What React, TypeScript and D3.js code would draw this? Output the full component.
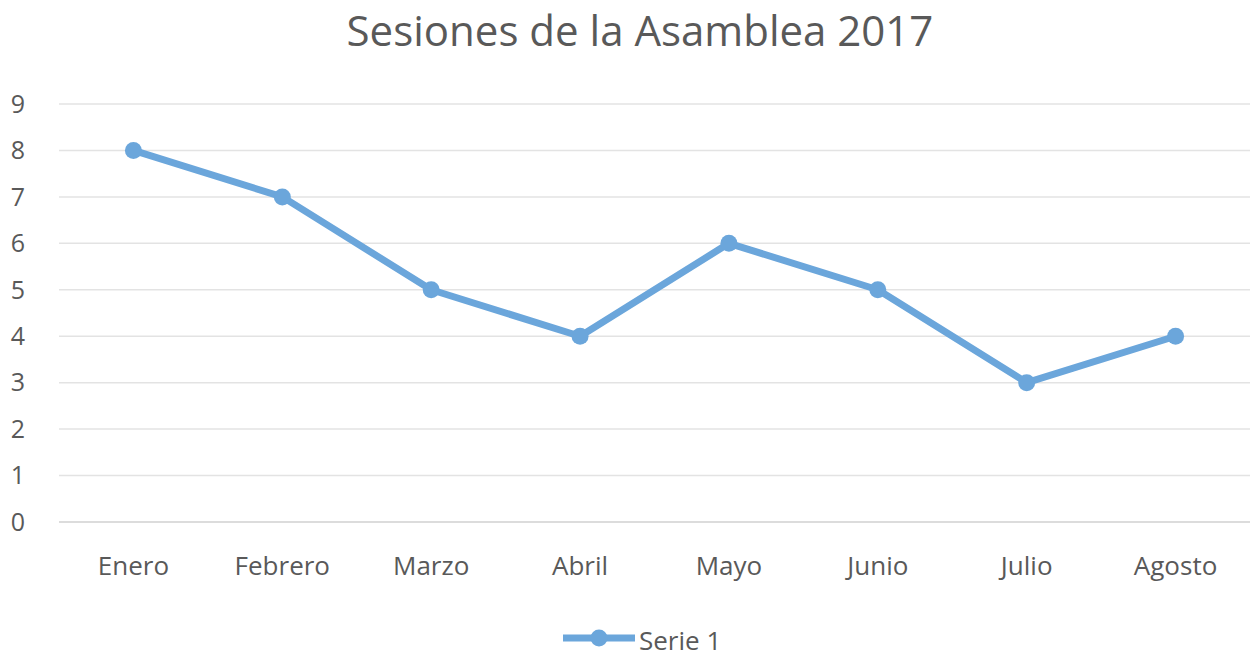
import React, { useEffect, useRef } from 'react';
import * as d3 from 'd3';

const months = ['Enero', 'Febrero', 'Marzo', 'Abril', 'Mayo', 'Junio', 'Julio', 'Agosto'];
const serie1 = [8, 7, 5, 4, 6, 5, 3, 4];
const yTicks = [0, 1, 2, 3, 4, 5, 6, 7, 8, 9];
const title = 'Sesiones de la Asamblea 2017';
const seriesName = 'Serie 1';

const W = 1253;
const H = 660;
const FONT = "'Open Sans', 'Liberation Sans', sans-serif";
const BLUE = '#6ba6db';
const TEXT = '#595959';

const App = () => {
  const svgRef = useRef<SVGSVGElement>(null);

  useEffect(() => {
    document.body.style.margin = '0';
    const svg = d3.select(svgRef.current);
    svg.selectAll('*').remove();

    const left = 59;
    const right = 1250;
    const x = d3.scaleBand().domain(months).range([left, right]);
    const y = d3.scaleLinear().domain([0, 9]).range([522, 104]);
    const cx = (m: string) => (x(m) as number) + x.bandwidth() / 2;

    svg.append('rect').attr('width', W).attr('height', H).attr('fill', 'white');

    svg.append('text')
      .attr('x', 640)
      .attr('y', 46)
      .attr('text-anchor', 'middle')
      .attr('font-family', FONT)
      .attr('font-size', 42)
      .attr('fill', TEXT)
      .text(title);

    const grid = svg.append('g');
    grid.selectAll('line')
      .data(yTicks)
      .enter()
      .append('line')
      .attr('x1', left)
      .attr('x2', right)
      .attr('y1', d => y(d))
      .attr('y2', d => y(d))
      .attr('stroke', d => (d === 0 ? '#d0d0d0' : '#e3e3e3'))
      .attr('stroke-width', 1.5);

    svg.append('g').selectAll('text')
      .data(yTicks)
      .enter()
      .append('text')
      .attr('x', 18)
      .attr('y', d => y(d))
      .attr('dy', '0.35em')
      .attr('text-anchor', 'middle')
      .attr('font-family', FONT)
      .attr('font-size', 25)
      .attr('fill', TEXT)
      .text(d => d);

    svg.append('g').selectAll('text')
      .data(months)
      .enter()
      .append('text')
      .attr('x', d => cx(d))
      .attr('y', 566)
      .attr('dy', '0.35em')
      .attr('text-anchor', 'middle')
      .attr('font-family', FONT)
      .attr('font-size', 26)
      .attr('fill', TEXT)
      .text(d => d);

    const line = d3.line<number>()
      .x((_, i) => cx(months[i]))
      .y(d => y(d));

    svg.append('path')
      .datum(serie1)
      .attr('d', line)
      .attr('fill', 'none')
      .attr('stroke', BLUE)
      .attr('stroke-width', 7)
      .attr('stroke-linejoin', 'round')
      .attr('stroke-linecap', 'round');

    svg.append('g').selectAll('circle')
      .data(serie1)
      .enter()
      .append('circle')
      .attr('cx', (_, i) => cx(months[i]))
      .attr('cy', d => y(d))
      .attr('r', 8.5)
      .attr('fill', BLUE);

    const lg = svg.append('g');
    lg.append('line')
      .attr('x1', 563).attr('x2', 635)
      .attr('y1', 638).attr('y2', 638)
      .attr('stroke', BLUE).attr('stroke-width', 7);
    lg.append('circle').attr('cx', 599).attr('cy', 638).attr('r', 8.5).attr('fill', BLUE);
    lg.append('text')
      .attr('x', 639)
      .attr('y', 641)
      .attr('dy', '0.35em')
      .attr('font-family', FONT)
      .attr('font-size', 26)
      .attr('fill', TEXT)
      .text(seriesName);
  }, []);

  return <svg ref={svgRef} width={W} height={H} style={{ display: 'block' }} />;
};

export default App;
